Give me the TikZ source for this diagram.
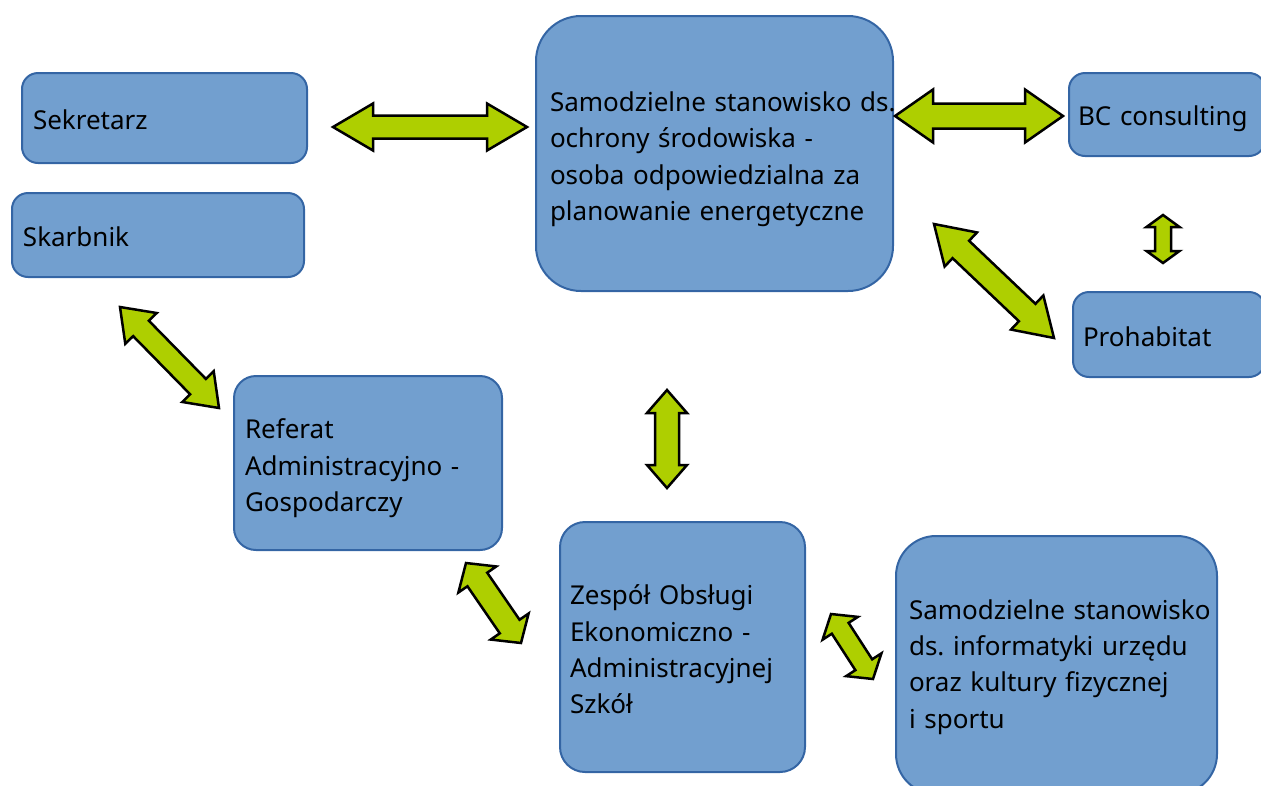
\documentclass[tikz,border=0pt]{standalone}
\usepackage{fontspec}
\setmainfont{Noto Sans}
\usetikzlibrary{calc}
\definecolor{boxfill}{HTML}{729FCF}
\definecolor{boxline}{HTML}{3465A4}
\definecolor{arrowfill}{HTML}{AECF00}
% block double arrow: from, to, head length, head half width, shaft half width
\newcommand\dblarrow[5]{%
  \draw[blockarr] (#1)
    -- ($($(#1)!#3!(#2)$)!#4!90:(#2)$)
    -- ($($(#1)!#3!(#2)$)!#5!90:(#2)$)
    -- ($($(#2)!#3!(#1)$)!#5!-90:(#1)$)
    -- ($($(#2)!#3!(#1)$)!#4!-90:(#1)$)
    -- (#2)
    -- ($($(#2)!#3!(#1)$)!#4!90:(#1)$)
    -- ($($(#2)!#3!(#1)$)!#5!90:(#1)$)
    -- ($($(#1)!#3!(#2)$)!#5!-90:(#2)$)
    -- ($($(#1)!#3!(#2)$)!#4!-90:(#2)$)
    -- cycle;}

\begin{document}
\begin{tikzpicture}[x=1pt,y=-1pt,
  unit/.style={draw=boxline, fill=boxfill, line width=2pt, inner ysep=0pt,
    align=left, font=\fontsize{26}{36.3}\selectfont\frenchspacing},
  drop/.style={execute at begin node={\rule{0pt}{#1}}},
  blockarr/.style={draw=black, fill=arrowfill, line width=2.5pt, line join=miter}]
  \useasboundingbox (0,0) rectangle (1261,785);

  % units
  \node[unit, drop=23.5pt, rounded corners=16pt, text width=263pt, inner xsep=11pt, minimum height=90pt]
    (sekretarz) at (164.5,118) {Sekretarz};
  \node[unit, drop=23.5pt, rounded corners=16pt, text width=270pt, inner xsep=11pt, minimum height=84pt]
    (skarbnik) at (158,235) {Skarbnik};
  \node[unit, drop=31.5pt, rounded corners=45pt, text width=329pt, inner xsep=14pt, minimum height=275pt]
    (ochrona) at (714.5,153.5) {\mbox{Samodzielne stanowisko ds.}\\ochrony środowiska -\\osoba odpowiedzialna za\\planowanie energetyczne};
  \node[unit, drop=27.5pt, rounded corners=16pt, text width=178pt, inner xsep=9pt, minimum height=83pt]
    (bc) at (1167,114.5) {BC consulting};
  \node[unit, drop=23.5pt, rounded corners=16pt, text width=172pt, inner xsep=10pt, minimum height=85pt]
    (prohabitat) at (1169,334.5) {Prohabitat};
  \node[unit, drop=30.5pt, rounded corners=22pt, text width=246pt, inner xsep=11pt, minimum height=174pt]
    (referat) at (368,463) {Referat\\Administracyjno -\\Gospodarczy};
  \node[unit, drop=25pt, rounded corners=25pt, text width=225pt, inner xsep=10pt, minimum height=250pt]
    (zespol) at (682.5,647) {Zespół Obsługi\\Ekonomiczno -\\Administracyjnej\\Szkół};
  \node[unit, drop=23.5pt, rounded corners=40pt, text width=295pt, inner xsep=13pt, minimum height=258pt]
    (informatyka) at (1056.5,665) {\mbox{Samodzielne stanowisko}\\ds. informatyki urzędu\\oraz kultury fizycznej\\i sportu};

  % arrow ends
  \coordinate (a1-w) at (333,127);   \coordinate (a1-e) at (527,127);
  \coordinate (a2-w) at (895,116);   \coordinate (a2-e) at (1063,116);
  \coordinate (a3-n) at (1163,215);  \coordinate (a3-s) at (1163,263);
  \coordinate (a4-n) at (934,224);   \coordinate (a4-s) at (1054,338);
  \coordinate (a5-n) at (120,307);   \coordinate (a5-s) at (219,408);
  \coordinate (a6-n) at (667,390);   \coordinate (a6-s) at (667,488);
  \coordinate (a7-n) at (466,563);   \coordinate (a7-s) at (521,643);
  \coordinate (a8-n) at (831,614);   \coordinate (a8-s) at (873,679);

  \dblarrow{a1-w}{a1-e}{40pt}{23.5pt}{11.5pt}
  \dblarrow{a2-w}{a2-e}{38pt}{26.5pt}{12.5pt}
  \dblarrow{a3-n}{a3-s}{12pt}{16.5pt}{8pt}
  \dblarrow{a4-n}{a4-s}{37pt}{23.5pt}{12pt}
  \dblarrow{a5-n}{a5-s}{30pt}{22pt}{11pt}
  \dblarrow{a6-n}{a6-s}{23pt}{20pt}{12pt}
  \dblarrow{a7-n}{a7-s}{20pt}{23pt}{12pt}
  \dblarrow{a8-n}{a8-s}{17pt}{21pt}{10pt}
\end{tikzpicture}
\end{document}
